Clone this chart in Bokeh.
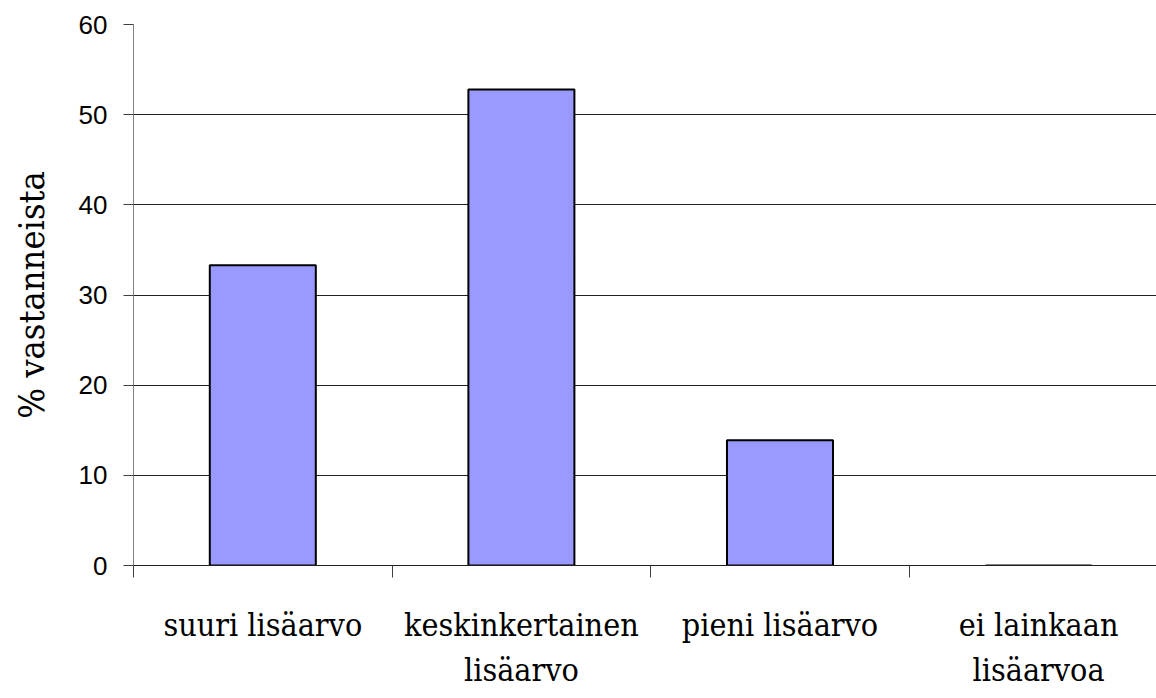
from bokeh.plotting import figure
from bokeh.models import Range1d, LinearAxis, FixedTicker
from bokeh.embed import file_html
from bokeh.resources import INLINE

categories = ["suuri lisäarvo", "keskinkertainen\nlisäarvo", "pieni lisäarvo", "ei lainkaan\nlisäarvoa"]
values = [33.3, 52.8, 13.9, 0.0]
y_ticks = [0, 10, 20, 30, 40, 50, 60]

centers = [i + 0.5 for i in range(len(categories))]

SERIF = "DejaVu Serif Condensed"

p = figure(width=1156, height=698, output_backend="svg", toolbar_location=None,
           x_range=Range1d(0, 3.956), y_range=Range1d(0, 60),
           x_axis_type=None, min_border_left=133, min_border_right=0,
           min_border_top=24, min_border_bottom=133)
p.outline_line_color = None
p.background_fill_color = "white"

p.vbar(x=centers, top=values, width=0.41, bottom=0,
       fill_color="#9999FF", line_color="black", line_width=2)

# y axis
p.yaxis.ticker = FixedTicker(ticks=y_ticks)
p.yaxis.major_tick_out = 10
p.yaxis.major_tick_in = 0
p.yaxis.minor_tick_line_color = None
p.yaxis.axis_line_color = "#808080"
p.yaxis.major_tick_line_color = "#404040"
p.yaxis.major_label_text_font = "Liberation Sans"
p.yaxis.major_label_text_font_size = "26px"
p.yaxis.major_label_text_color = "black"
p.yaxis.major_label_standoff = 16
p.yaxis.axis_label = "% vastanneista"
p.yaxis.axis_label_text_font = SERIF
p.yaxis.axis_label_text_font_size = "36px"
p.yaxis.axis_label_text_font_style = "normal"
p.yaxis.axis_label_text_color = "black"
p.yaxis.axis_label_standoff = 24

p.ygrid.ticker = FixedTicker(ticks=y_ticks)
p.ygrid.grid_line_color = "#202020"
p.ygrid.grid_line_width = 1
p.xgrid.grid_line_color = None

# x axis with boundary ticks
xa = LinearAxis(ticker=FixedTicker(ticks=[0, 1, 2, 3]))
xa.major_label_overrides = {0: "", 1: "", 2: "", 3: ""}
xa.major_label_text_font_size = "1px"
xa.major_label_standoff = 0
xa.major_tick_out = 12
xa.major_tick_in = 0
xa.minor_tick_line_color = None
xa.axis_line_color = "#202020"
xa.major_tick_line_color = "#404040"
p.add_layout(xa, "below")

# category labels axis
xl = LinearAxis(ticker=FixedTicker(ticks=centers))
xl.major_label_overrides = {c: lab for c, lab in zip(centers, categories)}
xl.axis_line_color = None
xl.major_tick_line_color = None
xl.minor_tick_line_color = None
xl.major_label_text_font = SERIF
xl.major_label_text_font_size = "32px"
xl.major_label_text_color = "black"
xl.major_label_standoff = 22
p.add_layout(xl, "below")

open("out.html", "w").write(file_html(p, INLINE))
